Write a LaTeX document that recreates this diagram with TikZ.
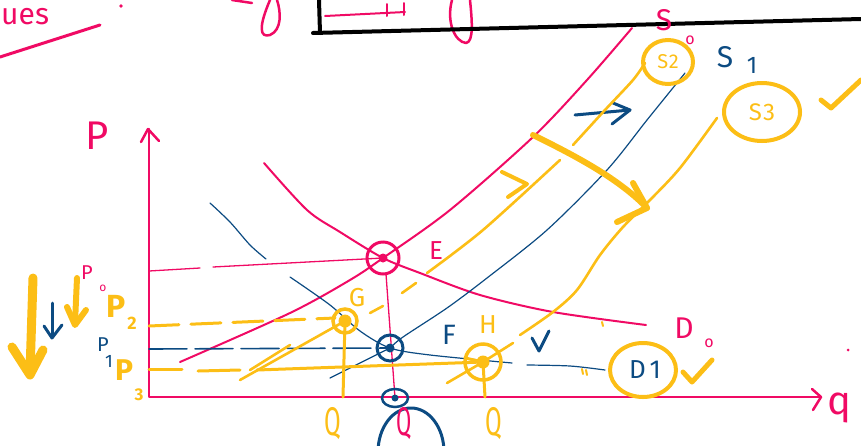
\documentclass[tikz,border=0pt]{standalone}
\usepackage{fontspec}
\setmainfont{Fira Sans}
\definecolor{pk}{RGB}{240,10,100}
\definecolor{bl}{RGB}{12,75,130}
\definecolor{og}{RGB}{252,190,22}
\tikzset{
 pkline/.style={draw=pk,line width=2pt,line cap=round,line join=round},
 pkthin/.style={draw=pk,line width=1.3pt,line cap=round},
 blline/.style={draw=bl,line width=1.2pt,line cap=round},
 blthick/.style={draw=bl,line width=3pt,line cap=round,line join=round},
 ogline/.style={draw=og,line width=2.6pt,line cap=round,line join=round},
 ogthick/.style={draw=og,line width=4pt,line cap=round,line join=round},
 lbl/.style={inner sep=0pt,font=\fontsize{#1}{#1}\selectfont},
 blbl/.style={inner sep=0pt,font=\fontsize{#1}{#1}\selectfont\bfseries},
}
\begin{document}
\begin{tikzpicture}[x=1pt,y=-1pt]
\useasboundingbox (0,0) rectangle (861,445);
% key points
\coordinate (E) at (383,258);
\coordinate (F) at (390,348);
\coordinate (G) at (345,321);
\coordinate (H) at (483,362);
\coordinate (O) at (149,397);
\coordinate (Ytop) at (149,129);
\coordinate (Xend) at (821,397);
\coordinate (Qb) at (395,398);

% ---------- top (cropped) ----------
\node[lbl=30,text=pk,anchor=base west] (ues) at (1,24) {ues};
\fill[pk] (121,6) circle (1.8);
\draw[pkline,line width=3pt] (0,57) -- (100,25);
\draw[pkline,line width=2.5pt] (232,0) -- (252,3);
\draw[pkline,line width=2.5pt] (270,0) .. controls (258,28) and (260,38) .. (270,35) .. controls (282,30) and (281,12) .. (277,0);
\draw[pkline,line width=2.5pt] (452,0) .. controls (446,22) and (455,42) .. (466,43) .. controls (474,42) and (472,20) .. (470,0);
\draw[black,line width=4pt,line cap=round] (319,0) -- (320,33);
\draw[black,line width=4pt,line cap=round] (313,33) -- (861,19);
\draw[pkline] (325,16) -- (405,12);
\draw[pkline] (387,4) -- (387,16);
\draw[pkline] (404,3) -- (404,15);

% ---------- axes ----------
\draw[pkline,line width=2.5pt] (Ytop) -- (O) -- (Xend);
\draw[pkline,line width=2.5pt] (141,142) -- (148,129) -- (159,141);
\draw[pkline,line width=2.5pt] (812,389) -- (821,397) -- (813,410);
\node[lbl=40,text=pk] (Plab) at (97,136) {P};
\node[lbl=40,text=pk] (qlab) at (839,408) {q};
\fill[pk] (848,350) circle (1.5);

% ---------- pink S0, D0 ----------
\draw[pkline] plot[smooth] coordinates {(180,362) (290,313) (350,280) (E) (450,210) (533,137) (587,80) (632,28)};
\draw[pkline] plot[smooth] coordinates {(264,163) (307,210) (340,232) (E) (420,273) (480,295) (553,312) (646,325)};
\draw[pkthin] (149,271) -- (200,268);
\draw[pkthin] (213,267) -- (E);
\draw[pkthin] (386,274) -- (Qb);
\draw[pk,line width=3pt] (E) circle (16);
\fill[pk] (E) circle (4.5);
\node[lbl=26,text=pk] (Elab) at (436,251) {E};
\node[lbl=30,text=pk] (S0lab) at (664,20) {S};
\node[lbl=16,text=pk] (S0sub) at (690,40) {o};
\node[lbl=30,text=pk] (D0lab) at (684,328) {D};
\node[lbl=16,text=pk] (D0sub) at (709,343) {o};
\node[lbl=20,text=pk] (P0lab) at (87,273) {P};
\node[lbl=12,text=pk] (P0sub) at (103,288) {o};

% ---------- blue S1, D1 ----------
\draw[blline] plot[smooth] coordinates {(210,203) (230,222) (250,245) (266,259)};
\draw[blline] plot[smooth] coordinates {(290,277) (330,305) (360,331) (F) (430,355) (512,363)};
\draw[blline] plot[smooth] coordinates {(527,365) (570,366) (605,370)};
\draw[blline] (330,378) -- (F);
\draw[blline] plot[smooth] coordinates {(F) (403,337) (447,308) (487,278) (547,230) (607,170) (647,120) (685,73)};
\draw[blline,line width=1.6pt,dash pattern=on 38pt off 8pt] (149,349) -- (F);
\draw[bl,line width=3pt] (F) circle (13);
\fill[bl] (F) circle (4.5);
\draw[bl,line width=2.5pt] (Qb) ellipse (13 and 9);
\fill[bl] (Qb) circle (3.5);
\draw[bl,line width=3pt] (411,452) ellipse (33 and 44);
\node[lbl=28,text=bl] (Flab) at (449,335) {F};
\node[lbl=30,text=bl] (S1lab) at (725,57) {S};
\node[lbl=24,text=bl] (S1sub) at (752,65) {1};
\node[lbl=20,text=bl] (P1lab) at (103,345) {P};
\node[lbl=18,text=bl] (P1sub) at (109,361) {1};
% blue arrows
\draw[blthick] (575,115) -- (630,110);
\draw[blthick] (613,103) -- (630,110) -- (612,124);
\draw[blthick] (52,303) -- (52,337);
\draw[blthick] (44,326) -- (52,338) -- (62,325);
\draw[blthick] (532,338) -- (539,351) -- (549,331);

% ---------- orange S2, S3 ----------
\draw[ogline] (240,380) -- (G);
\draw[ogline] (250,370) -- (290,345);
\draw[ogline] (370,313) -- (383,306);
\draw[ogline] (402,293) -- (416,283);
\draw[ogline] plot[smooth] coordinates {(427,273) (483,230) (560,160)};
\draw[ogline] plot[smooth] coordinates {(573,145) (605,110) (633,80) (645,63)};
\draw[ogline] (447,383) -- (H) -- (513,343);
\draw[ogline] plot[smooth] coordinates {(520,335) (553,312) (577,290) (600,255) (623,227) (650,200) (680,168) (717,118)};
% price lines
\draw[ogline,line width=3pt,dash pattern=on 30pt off 12pt] (149,326) -- (335,318);
\draw[ogline,line width=3pt] (149,369) -- (182,369);
\draw[ogline,line width=3pt] (198,371) -- (240,370);
\draw[ogline,line width=3pt] (257,370) -- (H);
\draw[ogline,line width=3pt] (H) -- (465,358);
% verticals
\draw[ogline,line width=3pt] (G) -- (343,397);
\draw[ogline,line width=3pt] (H) -- (485,397);
% points
\draw[og,line width=3.5pt] (G) circle (12);
\fill[og] (G) circle (6.5);
\draw[og,line width=3.5pt] (H) circle (18);
\fill[og] (H) circle (6.5);
\node[lbl=26,text=og] (Glab) at (357,298) {G};
\node[lbl=26,text=og] (Hlab) at (488,325) {H};
% S2, S3, D1 circles
\draw[og,line width=4pt] (668,62) ellipse (25 and 22);
\node[lbl=20,text=og] (S2lab) at (668,62) {S\kern0.5pt2};
\draw[og,line width=4pt] (762,112) ellipse (38 and 29);
\node[lbl=24,text=og] (S3lab) at (762,112) {S\kern1pt3};
\draw[og,line width=4pt] (643,370) ellipse (33 and 27);
\node[lbl=26,text=bl] (D1lab) at (645,370) {D\kern4pt1};
% checks
\draw[ogthick,line width=5pt] (683,372) -- (692,382) -- (712,360);
\draw[ogthick,line width=5pt] (821,100) -- (831,108) -- (861,80);
% orange arrows
\draw[ogthick,line width=6pt] (533,135) .. controls (580,158) and (620,180) .. (647,208);
\draw[ogthick,line width=6pt] (633,183) -- (647,208) -- (617,222);
\draw[ogthick] (502,172) -- (527,184) -- (508,197);
\draw[ogthick,line width=9pt] (33,278) -- (30,373);
\draw[ogthick,line width=9pt] (12,347) -- (30,375) -- (43,350);
\draw[ogthick,line width=6pt] (77,278) -- (75,323);
\draw[ogthick,line width=6pt] (67,307) -- (75,325) -- (86,310);
% P2, P3 labels
\node[blbl=32,text=og] (P2lab) at (116,306) {P};
\node[blbl=18,text=og] (P2sub) at (132,323) {2};
\node[blbl=30,text=og] (P3lab) at (124,370) {P};
\node[blbl=17,text=og] (P3sub) at (139,395) {3};
% small tick marks
\draw[og,line width=2pt,line cap=round] (582,369) -- (583,374);
\draw[og,line width=2pt,line cap=round] (586,370) -- (587,375);
\draw[og,line width=2pt,line cap=round] (602,322) -- (603,326);
% Q labels
\node[lbl=40,text=og,xscale=0.6,anchor=base] (Q1) at (333,435) {Q};
\node[lbl=40,text=pk,xscale=0.55,anchor=base] (Q2) at (404,435) {Q};
\node[lbl=40,text=og,xscale=0.6,anchor=base] (Q3) at (494,435) {Q};
\end{tikzpicture}
\end{document}
